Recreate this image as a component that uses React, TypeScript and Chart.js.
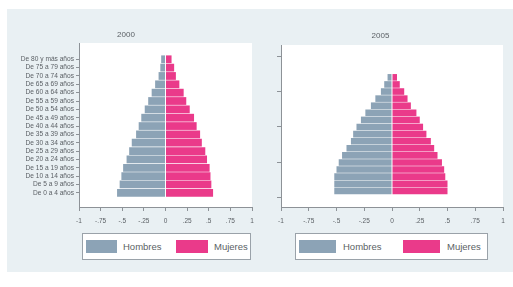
import React, { useEffect, useRef } from "react";
import { Chart, registerables } from "chart.js";

Chart.register(...registerables);

const ageLabels = [
  "De 0 a 4 años", "De 5 a 9 años", "De 10 a 14 años", "De 15 a 19 años",
  "De 20 a 24 años", "De 25 a 29 años", "De 30 a 34 años", "De 35 a 39 años",
  "De 40 a 44 años", "De 45 a 49 años", "De 50 a 54 años", "De 55 a 59 años",
  "De 60 a 64 años", "De 65 a 69 años", "De 70 a 74 años", "De 75 a 79 años",
  "De 80 y más años",
];

const titleA = "2000";
const titleB = "2005";

const menA = [-0.56, -0.53, -0.51, -0.49, -0.45, -0.42, -0.39, -0.34, -0.31, -0.28, -0.24, -0.2, -0.16, -0.12, -0.08, -0.06, -0.05];
const womenA = [0.55, 0.53, 0.52, 0.51, 0.48, 0.46, 0.42, 0.4, 0.36, 0.33, 0.28, 0.24, 0.21, 0.16, 0.12, 0.1, 0.07];
const menB = [-0.52, -0.52, -0.52, -0.5, -0.48, -0.45, -0.41, -0.37, -0.35, -0.32, -0.28, -0.24, -0.19, -0.15, -0.1, -0.07, -0.04];
const womenB = [0.5, 0.5, 0.48, 0.47, 0.45, 0.41, 0.38, 0.35, 0.31, 0.28, 0.25, 0.22, 0.17, 0.14, 0.11, 0.07, 0.045];

const xTickValues = [-1, -0.75, -0.5, -0.25, 0, 0.25, 0.5, 0.75, 1];
const xTickLabels = ["-1", "-.75", "-.5", "-.25", "0", ".25", ".5", ".75", "1"];

const seriesNames = ["Hombres", "Mujeres"];
const MEN_COLOR = "#8ca3b6";
const WOMEN_COLOR = "#ea3a8a";
const AXIS_COLOR = "#8d9297";
const TEXT_COLOR = "#5a5f64";
const FONT = "'Liberation Sans', Arial, sans-serif";

const plotBg = {
  id: "plotBg",
  beforeDraw(chart: any) {
    const { ctx, chartArea: a } = chart;
    ctx.save();
    ctx.fillStyle = "#ffffff";
    ctx.fillRect(a.left, a.top, a.right - a.left, a.bottom - a.top);
    ctx.restore();
  },
};

function toPoints(arr: number[]) {
  return arr.map((v, i) => ({ x: v, y: i + 1 }));
}

type PyrProps = {
  men: number[];
  women: number[];
  title: string;
  width: number;
  height: number;
  yWidth: number;
  padRight: number;
  padTop: number;
  titleGap: number;
  yMin: number;
  yMax: number;
  yStep: number;
  showAgeLabels: boolean;
};

function Pyramid(p: PyrProps) {
  const ref = useRef<HTMLCanvasElement | null>(null);
  useEffect(() => {
    if (!ref.current) return;
    const nAges = p.men.length;
    const inRange = (v: number) => (p.showAgeLabels ? v >= 1 && v <= nAges : true);
    const chart = new Chart(ref.current, {
      type: "bar",
      data: {
        datasets: [
          {
            label: seriesNames[0],
            data: toPoints(p.men) as any,
            backgroundColor: MEN_COLOR,
            borderWidth: 0,
          } as any,
          {
            label: seriesNames[1],
            data: toPoints(p.women) as any,
            backgroundColor: WOMEN_COLOR,
            borderWidth: 0,
          } as any,
        ],
      },
      options: {
        indexAxis: "y",
        responsive: false,
        animation: false,
        devicePixelRatio: 1,
        datasets: {
          bar: { grouped: false, barPercentage: 0.93, categoryPercentage: 1 },
        },
        layout: { padding: { left: 0, right: p.padRight, top: p.padTop, bottom: 0 } },
        plugins: {
          legend: { display: false },
          tooltip: { enabled: false },
          title: {
            display: true,
            text: p.title,
            color: TEXT_COLOR,
            font: { family: FONT, size: 8, weight: "normal" },
            padding: { top: 0, bottom: p.titleGap },
          },
        },
        scales: {
          x: {
            type: "linear",
            min: -1,
            max: 1,
            offset: false,
            afterFit: (s: any) => {
              s.height = 23;
            },
            ticks: {
              stepSize: 0.25,
              includeBounds: false,
              autoSkip: false,
              maxRotation: 0,
              padding: 6,
              color: TEXT_COLOR,
              font: { family: FONT, size: 6.5 },
              callback: (v: any) => {
                const i = xTickValues.findIndex((t) => Math.abs(t - Number(v)) < 1e-6);
                return i >= 0 ? xTickLabels[i] : null;
              },
            },
            grid: { display: true, offset: false, drawOnChartArea: false, drawTicks: true, tickLength: 4, color: AXIS_COLOR },
            border: { display: true, color: AXIS_COLOR, width: 1 },
          },
          y: {
            type: "linear",
            min: p.yMin,
            max: p.yMax,
            offset: false,
            afterFit: (s: any) => {
              s.width = p.yWidth;
            },
            ticks: {
              stepSize: p.yStep,
              includeBounds: false,
              autoSkip: false,
              padding: 2,
              color: TEXT_COLOR,
              font: { family: FONT, size: 6.6 },
              callback: (v: any) => {
                const n = Number(v);
                if (!inRange(n)) return null;
                if (!p.showAgeLabels) return "";
                return ageLabels[Math.round(n) - 1] ?? null;
              },
            },
            grid: { display: true, offset: false, drawOnChartArea: false, drawTicks: true, tickLength: p.showAgeLabels ? 3 : 4, color: AXIS_COLOR },
            border: { display: true, color: AXIS_COLOR, width: 1 },
          },
        },
      } as any,
      plugins: [plotBg],
    });
    return () => chart.destroy();
  }, []);
  return <canvas ref={ref} width={p.width} height={p.height} style={{ width: p.width, height: p.height, display: "block" }} />;
}

function Legend(props: { left: number; width: number; sw1: [number, number]; t1: number; sw2: [number, number]; t2: number }) {
  const top = 233;
  const h = 27;
  const swatch = (x: [number, number], color: string) => (
    <div style={{ position: "absolute", left: x[0] - props.left - 1, top: 6, width: x[1] - x[0], height: 13, background: color }} />
  );
  const text = (x: number, s: string) => (
    <div style={{ position: "absolute", left: x - props.left - 1, top: 6, height: 13, lineHeight: "13px", fontSize: 9.5, fontFamily: FONT, color: TEXT_COLOR, whiteSpace: "nowrap" }}>{s}</div>
  );
  return (
    <div style={{ position: "absolute", left: props.left, top, width: props.width, height: h, boxSizing: "border-box", border: "1px solid #9aa2a9", background: "#ffffff", overflow: "hidden" }}>
      {swatch(props.sw1, MEN_COLOR)}
      {text(props.t1, seriesNames[0])}
      {swatch(props.sw2, WOMEN_COLOR)}
      {text(props.t2, seriesNames[1])}
    </div>
  );
}

export default function App() {
  return (
    <div style={{ position: "fixed", left: 0, top: 0, width: 513, height: 287, background: "#ffffff", overflow: "hidden" }}>
      <div style={{ position: "absolute", left: 7, top: 9, width: 506, height: 263, background: "#e9f0f3" }} />
      <div style={{ position: "absolute", left: 0, top: 0 }}>
        <Pyramid
          men={menA}
          women={womenA}
          title={titleA}
          width={260}
          height={230}
          yWidth={79}
          padRight={8}
          padTop={30}
          titleGap={3.4}
          yMin={-0.7}
          yMax={18.95}
          yStep={1}
          showAgeLabels={true}
        />
      </div>
      <div style={{ position: "absolute", left: 258, top: 0 }}>
        <Pyramid
          men={menB}
          women={womenB}
          title={titleB}
          width={255}
          height={230}
          yWidth={23}
          padRight={10}
          padTop={31}
          titleGap={4.4}
          yMin={-1.28}
          yMax={21.56}
          yStep={5}
          showAgeLabels={false}
        />
      </div>
      <Legend left={82} width={169} sw1={[86, 117]} t1={123} sw2={[176, 208]} t2={214} />
      <Legend left={295} width={193} sw1={[299, 336]} t1={343} sw2={[403, 440]} t2={447} />
    </div>
  );
}
